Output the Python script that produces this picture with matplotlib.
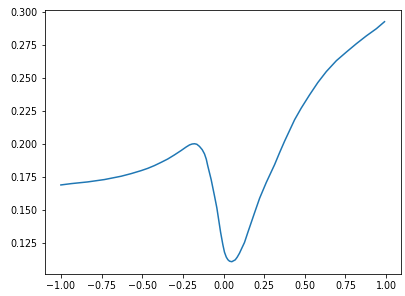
import matplotlib
matplotlib.use("Agg")
import matplotlib.pyplot as plt

x_vals = [-1.0, -0.937, -0.835, -0.732, -0.63, -0.568, -0.506, -0.466, -0.425,
          -0.383, -0.343, -0.302, -0.26, -0.23, -0.209, -0.193, -0.178, -0.164,
          -0.148, -0.131, -0.117, -0.106, -0.097, -0.076, -0.055, -0.041, -0.018,
          -0.004, 0.006, 0.017, 0.027, 0.037, 0.051, 0.072, 0.084, 0.098, 0.113,
          0.129, 0.150, 0.191, 0.222, 0.263, 0.314, 0.345, 0.375, 0.437, 0.478,
          0.529, 0.58, 0.632, 0.694, 0.755, 0.817, 0.878, 0.94, 0.99]
y_vals = [0.1689, 0.1699, 0.1712, 0.1730, 0.1755, 0.1775, 0.1798, 0.1815, 0.1836,
          0.1861, 0.1886, 0.1917, 0.1951, 0.1977, 0.1993, 0.2000, 0.2002, 0.1998,
          0.1982, 0.1957, 0.1925, 0.1885, 0.1835, 0.1730, 0.1603, 0.1515, 0.1330,
          0.1235, 0.1178, 0.1141, 0.1121, 0.1110, 0.1106, 0.1120, 0.1140, 0.1170,
          0.1210, 0.1252, 0.1330, 0.1478, 0.1588, 0.1708, 0.1843, 0.1935, 0.2020,
          0.2184, 0.2273, 0.2373, 0.2467, 0.2550, 0.2633, 0.2698, 0.2762, 0.2821,
          0.2876, 0.2929]

W, H, DPI = 405, 296, 72
fig = plt.figure(figsize=(W / DPI, H / DPI), dpi=DPI)
ax = fig.add_axes([44.7 / W, (H - 273.7) / H, 356 / W, 264 / H])
ax.plot(x_vals, y_vals, color="#1f77b4", linewidth=1.5)
ax.tick_params(labelsize=9.5)
fig.savefig("out.png", dpi=DPI)
